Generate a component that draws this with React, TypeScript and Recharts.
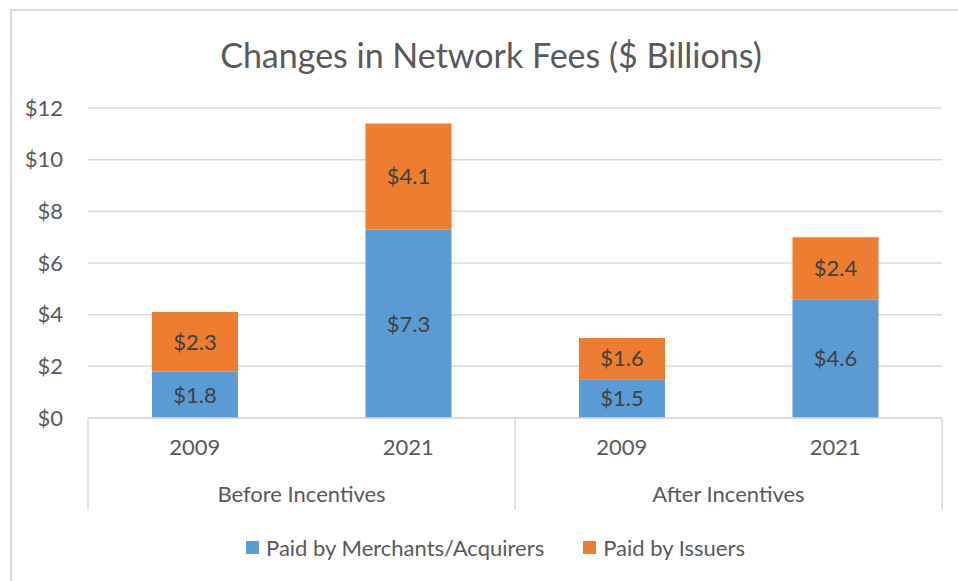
import React from 'react';
import { BarChart, Bar, XAxis, YAxis, CartesianGrid, Legend, LabelList } from 'recharts';

const years = ['2009', '2021', '2009', '2021'];
const groups = ['Before Incentives', 'Before Incentives', 'After Incentives', 'After Incentives'];
const merchants = [1.8, 7.3, 1.5, 4.6];
const issuers = [2.3, 4.1, 1.6, 2.4];
const yTicks = [0, 2, 4, 6, 8, 10, 12];

const seriesNames = {
  merchants: 'Paid by Merchants/Acquirers',
  issuers: 'Paid by Issuers',
};
const colors = { merchants: '#5B9BD5', issuers: '#ED7D31' };

const data = years.map((year, i) => ({
  key: `${groups[i]}-${year}`,
  year,
  group: groups[i],
  merchants: merchants[i],
  issuers: issuers[i],
}));

const W = 958;
const H = 581;
const MARGIN = { top: 108, right: 16, bottom: 47, left: 0 };
const Y_AXIS_W = 88;
const X_AXIS_H = 92;
const PLOT_W = W - MARGIN.left - MARGIN.right - Y_AXIS_W;
const STEP = PLOT_W / years.length;
const TEXT = '#595959';
const LINE = '#d9d9d9';
const FONT = 'Lato, "Open Sans", sans-serif';
const FS = 22;

const CategoryTick = (props: any) => {
  const { x, y, index } = props;
  const groupStart = index === 0 || groups[index] !== groups[index - 1];
  const isLast = index === years.length - 1;
  let span = 1;
  while (index + span < groups.length && groups[index + span] === groups[index]) span++;
  const left = x - STEP / 2;
  return (
    <g>
      <text x={x} y={y + 37} textAnchor="middle" fill={TEXT} fontSize={FS}>
        {years[index]}
      </text>
      {groupStart && (
        <>
          <line x1={left} x2={left} y1={y} y2={y + X_AXIS_H} stroke={LINE} strokeWidth={1.5} />
          <text x={left + (span * STEP) / 2} y={y + 84} textAnchor="middle" fill={TEXT} fontSize={FS}>
            {groups[index]}
          </text>
        </>
      )}
      {isLast && (
        <line x1={x + STEP / 2} x2={x + STEP / 2} y1={y} y2={y + X_AXIS_H} stroke={LINE} strokeWidth={1.5} />
      )}
    </g>
  );
};

const LegendContent = () => (
  <div
    style={{
      display: 'flex',
      justifyContent: 'center',
      alignItems: 'center',
      height: 24,
      fontSize: FS,
      color: TEXT,
      fontFamily: FONT,
    }}
  >
    {(['merchants', 'issuers'] as const).map((k, i) => (
      <div key={k} style={{ display: 'flex', alignItems: 'center', marginLeft: i ? 39 : 0 }}>
        <span style={{ width: 13, height: 13, background: colors[k], marginRight: 7, display: 'inline-block' }} />
        <span>{seriesNames[k]}</span>
      </div>
    ))}
  </div>
);

const money = (v: any) => `$${Number(v).toFixed(1)}`;

export default function App() {
  return (
    <div
      style={{
        position: 'absolute',
        left: 0,
        top: 0,
        width: W,
        height: H,
        overflow: 'hidden',
        background: '#fff',
        fontFamily: FONT,
      }}
    >
      <div
        style={{
          position: 'absolute',
          left: 10,
          top: 9,
          width: 1000,
          height: 700,
          border: `2px solid ${LINE}`,
        }}
      />
      <div
        style={{
          position: 'absolute',
          left: 0,
          top: 38,
          width: 982,
          textAlign: 'center',
          fontSize: 34,
          lineHeight: '34px',
          color: TEXT,
        }}
      >
        Changes in Network Fees ($ Billions)
      </div>
      <BarChart width={W} height={H} data={data} margin={MARGIN}>
        <CartesianGrid vertical={false} stroke={LINE} strokeWidth={1.5} />
        <XAxis
          dataKey="key"
          interval={0}
          height={X_AXIS_H}
          tickLine={false}
          tickSize={0}
          tickMargin={0}
          axisLine={{ stroke: LINE, strokeWidth: 1.5 }}
          tick={<CategoryTick />}
        />
        <YAxis
          width={Y_AXIS_W}
          domain={[0, 12]}
          ticks={yTicks}
          interval={0}
          axisLine={false}
          tickLine={false}
          tickSize={0}
          tickMargin={25}
          tickFormatter={(v: number) => `$${v}`}
          tick={{ fill: TEXT, fontSize: FS }}
        />
        <Legend
          content={<LegendContent />}
          wrapperStyle={{ left: 0, width: 991, bottom: 22 }}
        />
        <Bar dataKey="merchants" name={seriesNames.merchants} stackId="a" fill={colors.merchants} barSize={86} isAnimationActive={false}>
          <LabelList dataKey="merchants" position="center" formatter={money} fill="#404040" fontSize={FS} />
        </Bar>
        <Bar dataKey="issuers" name={seriesNames.issuers} stackId="a" fill={colors.issuers} barSize={86} isAnimationActive={false}>
          <LabelList dataKey="issuers" position="center" formatter={money} fill="#404040" fontSize={FS} />
        </Bar>
      </BarChart>
    </div>
  );
}
